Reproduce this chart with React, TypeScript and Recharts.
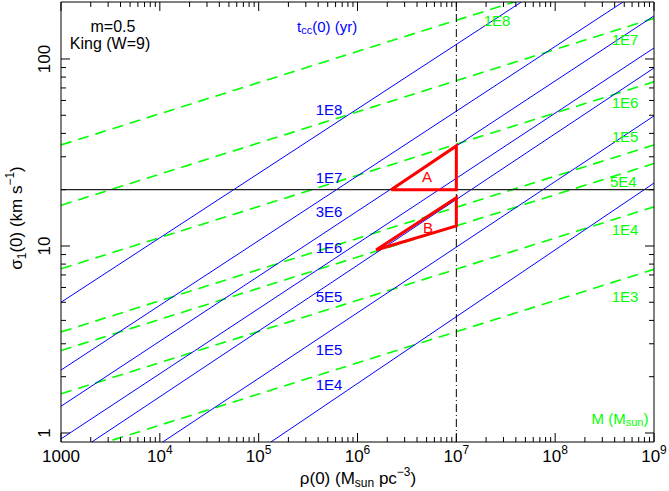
import React from 'react';
import { ComposedChart, Line, XAxis, YAxis, Scatter, ReferenceLine } from 'recharts';

const WIDTH = 669;
const HEIGHT = 491;
const FONT = '"Liberation Sans", Arial, sans-serif';

const BLUE = '#0000ff';
const GREEN = '#00ff00';
const RED = '#ff0000';

// Axis domains (log-log)
const RHO_DOMAIN: [number, number] = [1000, 1e9];
const SIGMA_DOMAIN: [number, number] = [0.895, 201.7];

// Ticks
const X_DECADES = [1e3, 1e4, 1e5, 1e6, 1e7, 1e8, 1e9];
const X_TICK_LABELS = [
  { base: '1000', exp: '' },
  { base: '10', exp: '4' },
  { base: '10', exp: '5' },
  { base: '10', exp: '6' },
  { base: '10', exp: '7' },
  { base: '10', exp: '8' },
  { base: '10', exp: '9' },
];
const Y_DECADES = [1, 10, 100];
const Y_TICK_LABELS = ['1', '10', '100'];
const MINOR_MULTIPLIERS = [2, 3, 4, 5, 6, 7, 8, 9];

// Core-collapse time lines t_cc(0) (yr), blue solid: endpoints
const TCC_LABELS = ['1E8', '1E7', '3E6', '1E6', '5E5', '1E5', '1E4'];
const TCC_START_RHO = [1000, 1000, 1000, 1000, 2050, 10700, 1.33e5];
const TCC_START_SIGMA = [5.0, 2.17, 1.39, 0.93, 0.895, 0.895, 0.895];
const TCC_END_RHO = [4.55e7, 4.86e8, 1e9, 1e9, 1e9, 1e9, 1e9];
const TCC_END_SIGMA = [201.7, 201.7, 170, 114.5, 89.5, 49.6, 21.7];

// Cluster mass lines M (Msun), green dashed: sigma at rho=1e3 and rho=1e9
const MASS_LABELS = ['1E8', '1E7', '1E6', '1E5', '5E4', '1E4', '1E3'];
const MASS_START_RHO = [1e3, 1e3, 1e3, 1e3, 1e3, 1e3, 1e3];
const MASS_START_SIGMA = [34.7, 16.5, 7.55, 3.47, 2.76, 1.62, 0.75];
const MASS_END_RHO = [1e9, 1e9, 1e9, 1e9, 1e9, 1e9, 1e9];
const MASS_END_SIGMA = [347, 165, 75.5, 34.7, 27.6, 16.2, 7.5];

// Reference lines
const SIGMA_REF = 20;
const RHO_REF = 1e7;

// Red regions A and B (closed polygons)
const REGION_A_RHO = [2.19e6, 1e7, 1e7, 2.19e6];
const REGION_A_SIGMA = [20, 20, 34.3, 20];
const REGION_B_RHO = [1.54e6, 1e7, 1e7, 1.54e6];
const REGION_B_SIGMA = [9.52, 12.8, 18.1, 9.52];

// Annotations placed in data coordinates
const NOTE_TEXT = [
  'm=0.5', 'King (W=9)', 'TCC_TITLE',
  ...TCC_LABELS,
  ...MASS_LABELS,
  'MASS_TITLE', 'A', 'B',
];
const NOTE_RHO = [
  3357, 3133, 4.92e5,
  5.15e5, 5.15e5, 5.15e5, 5.15e5, 5.15e5, 5.15e5, 5.15e5,
  2.58e7, 5.09e8, 5.09e8, 5.09e8, 4.9e8, 5.09e8, 5.09e8,
  4.53e8, 5.05e6, 5.16e6,
];
const NOTE_SIGMA = [
  148.3, 120.3, 150,
  54.0, 23.1, 15.2, 9.76, 5.34, 2.78, 1.81,
  161.6, 126.4, 58.2, 38.3, 22.0, 12.2, 5.34,
  1.2, 23.4, 12.5,
];
const NOTE_COLOR = [
  '#000', '#000', BLUE,
  BLUE, BLUE, BLUE, BLUE, BLUE, BLUE, BLUE,
  GREEN, GREEN, GREEN, GREEN, GREEN, GREEN, GREEN,
  GREEN, RED, RED,
];

const seg = (x1: number, y1: number, x2: number, y2: number) => [
  { x: x1, y: y1 },
  { x: x2, y: y2 },
];
const poly = (xs: number[], ys: number[]) => xs.map((x, i) => ({ x, y: ys[i] }));

const isDecade = (v: number) => Math.abs(Math.log10(v) - Math.round(Math.log10(v))) < 1e-6;

const X_TICKS = [
  ...X_DECADES.slice(0, -1).flatMap((d) => [d, ...MINOR_MULTIPLIERS.map((m) => d * m)]),
  X_DECADES[X_DECADES.length - 1],
];
const Y_TICKS = Y_DECADES.flatMap((d) => [d, ...MINOR_MULTIPLIERS.map((m) => d * m)]).filter(
  (v) => v <= 190
);

const MAJOR = 9;
const MINOR = 5;

const BottomTick = (props: any) => {
  const { x, y, payload } = props;
  const v = payload.value;
  const major = isDecade(v);
  const idx = X_DECADES.findIndex((d) => Math.abs(d - v) / d < 1e-6);
  const lab = idx >= 0 ? X_TICK_LABELS[idx] : null;
  return (
    <g>
      <line x1={x} x2={x} y1={y} y2={y - (major ? MAJOR : MINOR)} stroke="#000" strokeWidth={1} />
      {lab && (
        <text x={x} y={y + 20} textAnchor="middle" fontFamily={FONT} fontSize={17} fill="#000">
          {lab.base}
          {lab.exp && (
            <tspan fontSize={12} dy={-8}>
              {lab.exp}
            </tspan>
          )}
        </text>
      )}
    </g>
  );
};

const TopTick = (props: any) => {
  const { x, y, payload } = props;
  const major = isDecade(payload.value);
  return <line x1={x} x2={x} y1={y} y2={y + (major ? MAJOR : MINOR)} stroke="#000" strokeWidth={1} />;
};

const LeftTick = (props: any) => {
  const { x, y, payload } = props;
  const v = payload.value;
  const major = isDecade(v);
  const idx = Y_DECADES.findIndex((d) => Math.abs(d - v) / d < 1e-6);
  const lab = idx >= 0 ? Y_TICK_LABELS[idx] : null;
  const lx = x - 11;
  return (
    <g>
      <line x1={x} x2={x + (major ? MAJOR : MINOR)} y1={y} y2={y} stroke="#000" strokeWidth={1} />
      {lab && (
        <text
          x={lx}
          y={y}
          transform={`rotate(-90, ${lx}, ${y})`}
          textAnchor="middle"
          fontFamily={FONT}
          fontSize={17}
          fill="#000"
        >
          {lab}
        </text>
      )}
    </g>
  );
};

const RightTick = (props: any) => {
  const { x, y, payload } = props;
  const major = isDecade(payload.value);
  return <line x1={x} x2={x - (major ? MAJOR : MINOR)} y1={y} y2={y} stroke="#000" strokeWidth={1} />;
};

const NOTES = NOTE_TEXT.map((t, i) => ({ x: NOTE_RHO[i], y: NOTE_SIGMA[i], text: t, color: NOTE_COLOR[i] }));

const NoteShape = (props: any) => {
  const { cx, cy, payload } = props;
  if (cx == null || cy == null || !payload) return <g />;
  const common = {
    x: cx,
    y: cy,
    textAnchor: 'middle' as const,
    dominantBaseline: 'central' as const,
    fontFamily: FONT,
    fill: payload.color,
  };
  if (payload.text === 'TCC_TITLE') {
    return (
      <text {...common} fontSize={15}>
        t
        <tspan fontSize={11} dy={4}>
          cc
        </tspan>
        <tspan dy={-4}>(0) (yr)</tspan>
      </text>
    );
  }
  if (payload.text === 'MASS_TITLE') {
    return (
      <text {...common} fontSize={15}>
        M (M
        <tspan fontSize={11} dy={4}>
          sun
        </tspan>
        <tspan dy={-4}>)</tspan>
      </text>
    );
  }
  const big = payload.color === '#000';
  return (
    <text {...common} fontSize={big ? 16 : 15}>
      {payload.text}
    </text>
  );
};

const TCC_SERIES = TCC_LABELS.map((l, i) => ({
  label: l,
  data: seg(TCC_START_RHO[i], TCC_START_SIGMA[i], TCC_END_RHO[i], TCC_END_SIGMA[i]),
}));
const MASS_SERIES = MASS_LABELS.map((l, i) => ({
  label: l,
  data: seg(MASS_START_RHO[i], MASS_START_SIGMA[i], MASS_END_RHO[i], MASS_END_SIGMA[i]),
}));

export default function App() {
  return (
    <div style={{ position: 'absolute', left: 0, top: 0, width: WIDTH, height: HEIGHT, background: '#fff' }}>
      <ComposedChart width={WIDTH} height={HEIGHT} margin={{ top: 1, right: 14, bottom: 0, left: 0 }}>
        <XAxis
          xAxisId={0}
          dataKey="x"
          type="number"
          scale="log"
          domain={RHO_DOMAIN}
          allowDataOverflow
          ticks={X_TICKS}
          interval={0}
          tickSize={0}
          tickMargin={0}
          tickLine={false}
          tick={<BottomTick />}
          height={49}
          axisLine={{ stroke: '#000' }}
        />
        <XAxis
          xAxisId="top"
          orientation="top"
          dataKey="x"
          type="number"
          scale="log"
          domain={RHO_DOMAIN}
          allowDataOverflow
          ticks={X_TICKS}
          interval={0}
          tickSize={0}
          tickMargin={0}
          tickLine={false}
          tick={<TopTick />}
          height={1}
          axisLine={{ stroke: '#000' }}
        />
        <YAxis
          yAxisId={0}
          dataKey="y"
          type="number"
          scale="log"
          domain={SIGMA_DOMAIN}
          allowDataOverflow
          ticks={Y_TICKS}
          interval={0}
          tickSize={0}
          tickMargin={0}
          tickLine={false}
          tick={<LeftTick />}
          width={61}
          axisLine={{ stroke: '#000' }}
        />
        <YAxis
          yAxisId="right"
          orientation="right"
          dataKey="y"
          type="number"
          scale="log"
          domain={SIGMA_DOMAIN}
          allowDataOverflow
          ticks={Y_TICKS}
          interval={0}
          tickSize={0}
          tickMargin={0}
          tickLine={false}
          tick={<RightTick />}
          width={1}
          axisLine={{ stroke: '#000' }}
        />
        {MASS_SERIES.map((s) => (
          <Line
            key={'m' + s.label}
            data={s.data}
            dataKey="y"
            type="linear"
            stroke={GREEN}
            strokeWidth={1.6}
            strokeDasharray="11 7"
            dot={false}
            activeDot={false}
            isAnimationActive={false}
          />
        ))}
        {TCC_SERIES.map((s) => (
          <Line
            key={'t' + s.label}
            data={s.data}
            dataKey="y"
            type="linear"
            stroke={BLUE}
            strokeWidth={1}
            dot={false}
            activeDot={false}
            isAnimationActive={false}
          />
        ))}
        <ReferenceLine y={SIGMA_REF} stroke="#222" strokeWidth={1.2} ifOverflow="hidden" />
        <ReferenceLine x={RHO_REF} stroke="#000" strokeWidth={1} strokeDasharray="8 3 1 3" ifOverflow="hidden" />
        <Line
          data={poly(REGION_A_RHO, REGION_A_SIGMA)}
          dataKey="y"
          type="linear"
          stroke={RED}
          strokeWidth={3}
          dot={false}
          activeDot={false}
          isAnimationActive={false}
        />
        <Line
          data={poly(REGION_B_RHO, REGION_B_SIGMA)}
          dataKey="y"
          type="linear"
          stroke={RED}
          strokeWidth={3}
          dot={false}
          activeDot={false}
          isAnimationActive={false}
        />
        <Scatter data={NOTES} dataKey="y" shape={<NoteShape />} isAnimationActive={false} />
      </ComposedChart>
      <svg
        width={WIDTH}
        height={HEIGHT}
        style={{ position: 'absolute', left: 0, top: 0, pointerEvents: 'none' }}
      >
        <text x={358} y={484} textAnchor="middle" fontFamily={FONT} fontSize={17} fill="#000">
          ρ(0) (M
          <tspan fontSize={12} dy={3}>
            sun
          </tspan>
          <tspan dy={-3}> pc</tspan>
          <tspan fontSize={12} dy={-8}>
            −3
          </tspan>
          <tspan dy={8}>)</tspan>
        </text>
        <text
          x={22}
          y={218}
          transform="rotate(-90, 22, 218)"
          textAnchor="middle"
          fontFamily={FONT}
          fontSize={17}
          fill="#000"
        >
          σ
          <tspan fontSize={12} dy={4}>
            1
          </tspan>
          <tspan dy={-4}>(0) (km s</tspan>
          <tspan fontSize={12} dy={-8}>
            −1
          </tspan>
          <tspan dy={8}>)</tspan>
        </text>
      </svg>
    </div>
  );
}
